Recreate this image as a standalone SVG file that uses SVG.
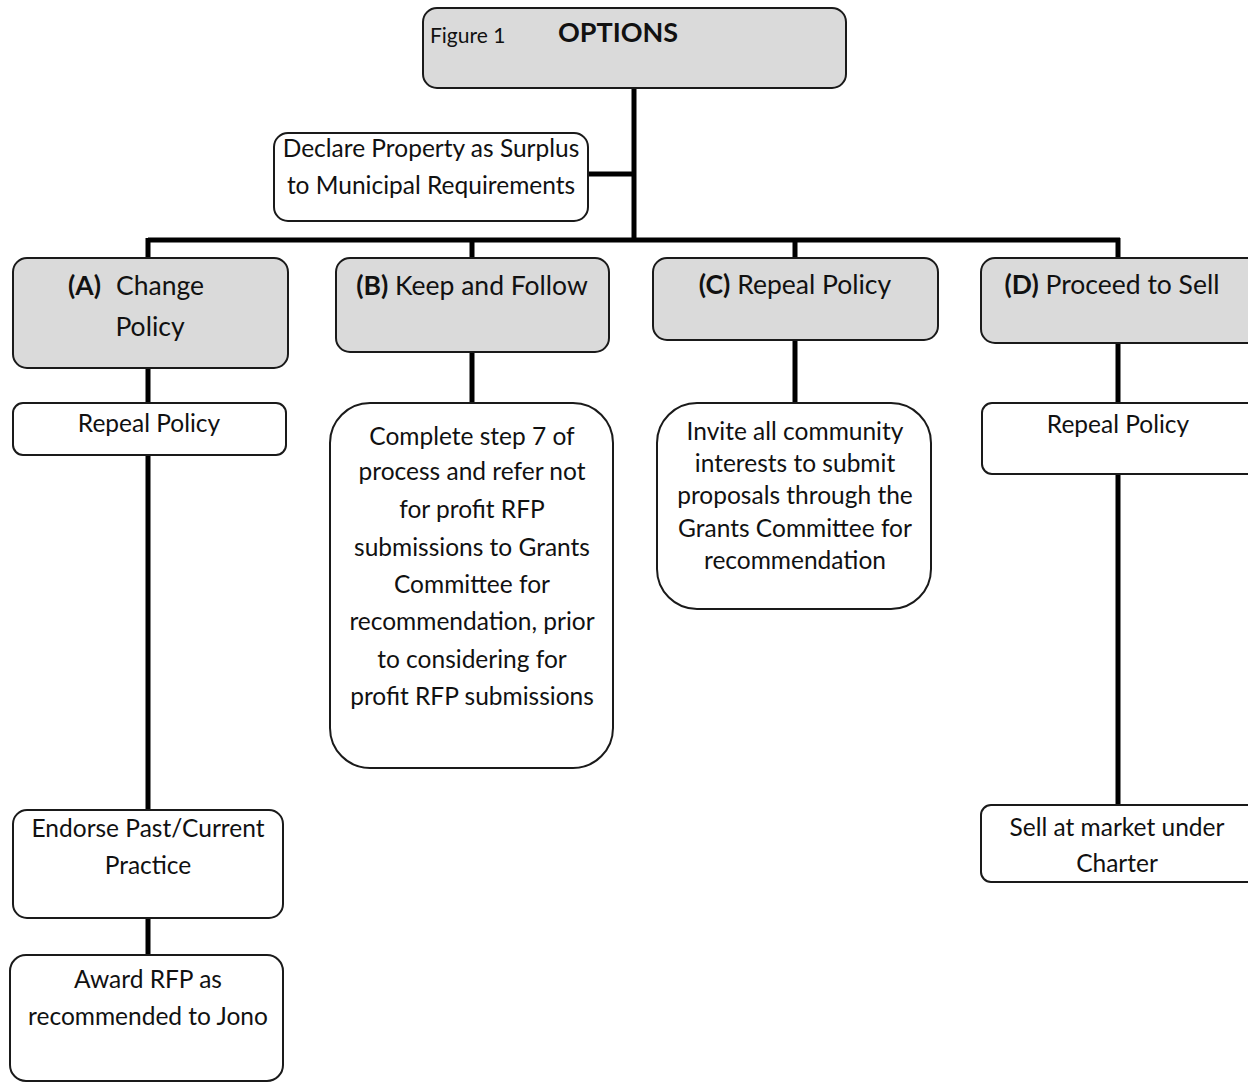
<svg xmlns="http://www.w3.org/2000/svg" width="1248" height="1082" viewBox="0 0 1248 1082">
<style>
.box{fill:#ffffff;stroke:#1a1a1a;stroke-width:2}
.hdr{fill:#dadada;stroke:#1a1a1a;stroke-width:2}
.t{font-family:Lato,"Liberation Sans",sans-serif;font-size:24.5px;fill:#111;text-anchor:middle}
.h{font-family:Lato,"Liberation Sans",sans-serif;font-size:26.5px;fill:#111;text-anchor:middle}
.b{font-weight:bold}
.ln{stroke:#000;stroke-width:5;fill:none}
</style>
<rect width="1248" height="1082" fill="#ffffff"/>
<g id="connectors">
<path class="ln" d="M634 88V240"/>
<path class="ln" d="M588 174H634"/>
<path class="ln" d="M148 240H1120"/>
<path class="ln" d="M148 238V259M472 238V259M795 238V259M1118 238V259"/>
<path class="ln" d="M148 368V404M148 455V811M148 918V956"/>
<path class="ln" d="M472 352V404"/>
<path class="ln" d="M795 340V404"/>
<path class="ln" d="M1118 343V404M1118 474V806"/>
</g>
<g id="options">
<rect class="hdr" x="423" y="8" width="423" height="80" rx="14"/>
<text x="430" y="43" style="font-family:Lato,'Liberation Sans',sans-serif;font-size:21px;fill:#111">Figure 1</text>
<text x="558" y="42" class="b" style="font-family:Lato,'Liberation Sans',sans-serif;font-size:27px;fill:#111">OPTIONS</text>
</g>
<g id="declare">
<rect class="box" x="274" y="133" width="314" height="88" rx="14"/>
<text class="t" x="431" y="157">Declare Property as Surplus</text>
<text class="t" x="431" y="194">to Municipal Requirements</text>
</g>
<g id="nodeA">
<rect class="hdr" x="13" y="258" width="275" height="110" rx="14"/>
<text class="h b" x="68" y="295" style="text-anchor:start">(A)</text>
<text class="h" x="116" y="295" style="text-anchor:start">Change</text>
<text class="h" x="150" y="336">Policy</text>
</g>
<g id="nodeB">
<rect class="hdr" x="336" y="258" width="273" height="94" rx="14"/>
<text class="h" x="472" y="295"><tspan class="b">(B)</tspan> Keep and Follow</text>
</g>
<g id="nodeC">
<rect class="hdr" x="653" y="258" width="285" height="82" rx="14"/>
<text class="h" x="795" y="294"><tspan class="b">(C)</tspan> Repeal Policy</text>
</g>
<g id="nodeD">
<rect class="hdr" x="981" y="258" width="280" height="85" rx="14"/>
<text class="h" x="1112" y="294"><tspan class="b">(D)</tspan> Proceed to Sell</text>
</g>
<g id="a-repeal">
<rect class="box" x="13" y="403" width="273" height="52" rx="10"/>
<text class="t" x="149" y="432">Repeal Policy</text>
</g>
<g id="a-endorse">
<rect class="box" x="13" y="810" width="270" height="108" rx="14"/>
<text class="t" x="148" y="837">Endorse Past/Current</text>
<text class="t" x="148" y="874">Practice</text>
</g>
<g id="a-award">
<rect class="box" x="10" y="955" width="273" height="126" rx="16"/>
<text class="t" x="148" y="988">Award RFP as</text>
<text class="t" x="148" y="1025">recommended to Jono</text>
</g>
<g id="b-step">
<rect class="box" x="330" y="403" width="283" height="365" rx="40"/>
<text class="t" x="472" y="445">Complete step 7 of</text>
<text class="t" x="472" y="480">process and refer not</text>
<text class="t" x="472" y="518">for profit RFP</text>
<text class="t" x="472" y="556">submissions to Grants</text>
<text class="t" x="472" y="593">Committee for</text>
<text class="t" x="472" y="630">recommendation, prior</text>
<text class="t" x="472" y="668">to considering for</text>
<text class="t" x="472" y="705">profit RFP submissions</text>
</g>
<g id="c-invite">
<rect class="box" x="657" y="403" width="274" height="206" rx="40"/>
<text class="t" x="795" y="440">Invite all community</text>
<text class="t" x="795" y="472">interests to submit</text>
<text class="t" x="795" y="504">proposals through the</text>
<text class="t" x="795" y="537">Grants Committee for</text>
<text class="t" x="795" y="569">recommendation</text>
</g>
<g id="d-repeal">
<rect class="box" x="982" y="403" width="280" height="71" rx="10"/>
<text class="t" x="1118" y="433">Repeal Policy</text>
</g>
<g id="d-sell">
<rect class="box" x="981" y="805" width="280" height="77" rx="10"/>
<text class="t" x="1117" y="836">Sell at market under</text>
<text class="t" x="1117" y="872">Charter</text>
</g>
</svg>
